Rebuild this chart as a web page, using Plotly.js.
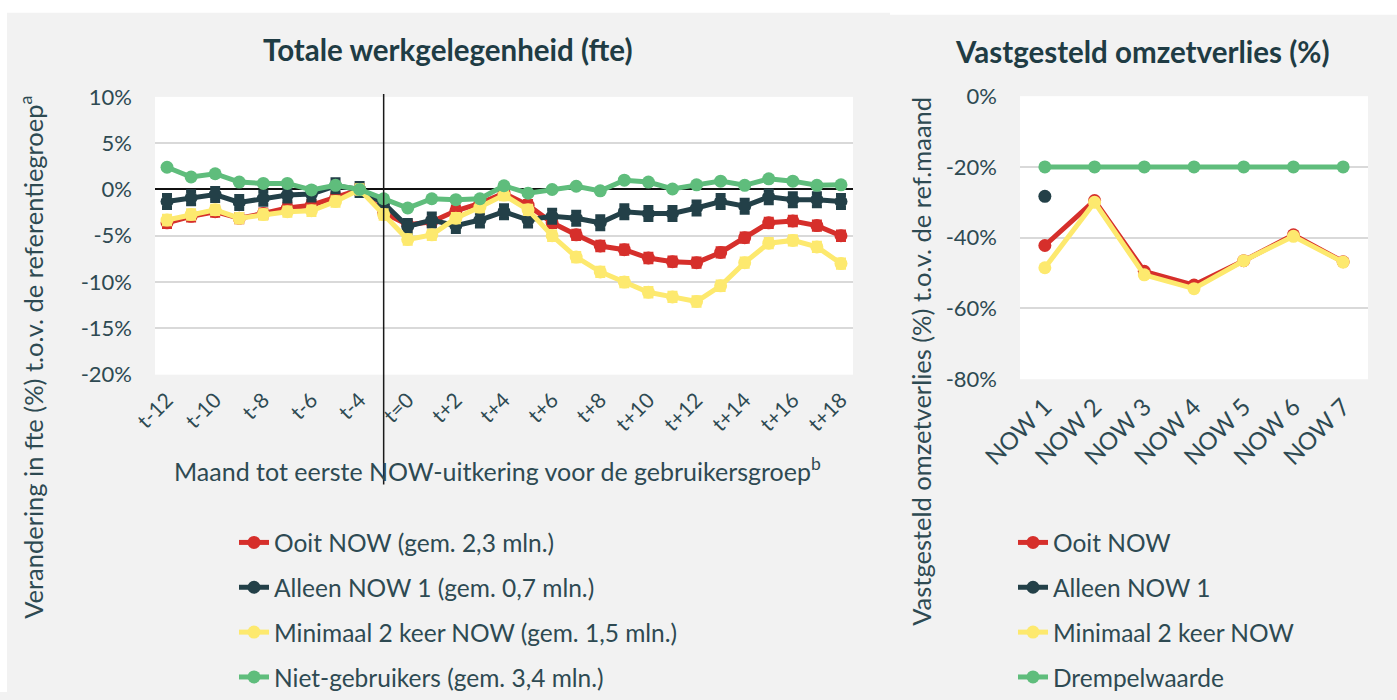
<!DOCTYPE html>
<html><head><meta charset="utf-8">
<script src="https://cdn.plot.ly/plotly-3.0.1.min.js"></script>
<style>html,body{margin:0;padding:0;background:#fff;} #chart{width:1397px;height:700px;}</style>
</head><body><div id="chart"></div>
<script>
// ---------- data: left panel ----------
const months = ['t-12','t-11','t-10','t-9','t-8','t-7','t-6','t-5','t-4','t-1','t=0',
  't+1','t+2','t+3','t+4','t+5','t+6','t+7','t+8','t+9','t+10','t+11','t+12','t+13','t+14','t+15','t+16','t+17','t+18'];
const ooitNow   = [-3.6,-2.9,-2.4,-3.1,-2.6,-2.0,-1.7,-0.9,0,-2.5,-3.8,-3.5,-2.3,-1.5,-0.4,-1.7,-3.6,-4.9,-6.1,-6.5,-7.4,-7.8,-7.9,-6.8,-5.2,-3.6,-3.4,-3.9,-5.0];
const alleenNow1= [-1.3,-0.9,-0.55,-1.4,-0.95,-0.6,-0.5,0.4,0,-1.5,-4.0,-3.3,-3.9,-3.3,-2.4,-3.3,-2.9,-3.1,-3.6,-2.4,-2.6,-2.6,-2.0,-1.3,-1.8,-0.8,-1.1,-1.1,-1.3];
const min2Now   = [-3.3,-2.7,-2.2,-3.1,-2.7,-2.4,-2.3,-1.3,0,-2.7,-5.4,-4.9,-3.1,-1.9,-0.6,-2.2,-5.0,-7.3,-8.9,-10.0,-11.1,-11.6,-12.1,-10.4,-7.9,-5.8,-5.5,-6.2,-8.0];
const nietGebr  = [2.4,1.35,1.7,0.8,0.65,0.65,-0.05,0.45,0,-1.0,-2.0,-1.0,-1.1,-1.0,0.4,-0.4,0.0,0.35,-0.15,1.0,0.8,0.05,0.5,0.9,0.45,1.15,0.9,0.45,0.5];
const errOoit   = 0.45, errAlleen = 0.7, errMin2 = 0.45;
const leftNames = ['Ooit NOW (gem. 2,3 mln.)','Alleen NOW 1 (gem. 0,7 mln.)','Minimaal 2 keer NOW (gem. 1,5 mln.)','Niet-gebruikers (gem. 3,4 mln.)'];
const leftYTickVals = [-20,-15,-10,-5,0,5,10];
const leftYTickText = ['-20%','-15%','-10%','-5%','0%','5%','10%'];
const leftXTickVals = months.filter((m,i)=>i%2===0);

// ---------- data: right panel ----------
const nowRounds = ['NOW 1','NOW 2','NOW 3','NOW 4','NOW 5','NOW 6','NOW 7'];
const rOoit   = [-42.2,-29.5,-49.5,-53.4,-46.5,-39.2,-46.8];
const rAlleen = [-28.3,null,null,null,null,null,null];
const rMin2   = [-48.5,-30.0,-50.5,-54.4,-46.5,-39.6,-46.9];
const rDrempel= [-20,-20,-20,-20,-20,-20,-20];
const rightNames = ['Ooit NOW','Alleen NOW 1','Minimaal 2 keer NOW','Drempelwaarde'];
const rightYTickVals = [-80,-60,-40,-20,0];
const rightYTickText = ['-80%','-60%','-40%','-20%','0%'];

// ---------- style ----------
const RED='#d62f2b', DARK='#234048', YEL='#fde96e', GRN='#5fbd7c';
const TXT='#2e4a52', TITLE='#1f3c44';
const FONT='Lato, "Open Sans", sans-serif';
const W=1397, H=700;
const px=v=>v/W, py=v=>1-v/H;

function lineTrace(x,y,name,color,xa,ya,leg,grp,err,lw,ms){
  const t={x:x,y:y,name:name,type:'scatter',mode:'lines+markers',xaxis:xa,yaxis:ya,
    legend:leg,legendgroup:grp,connectgaps:false,
    line:{color:color,width:lw},marker:{color:color,size:ms},hoverinfo:'skip'};
  if(err!==null){t.error_y={type:'constant',value:err,color:color,thickness:4,width:5,visible:true};}
  return t;
}

const data=[
  lineTrace(months,ooitNow,leftNames[0],RED,'x','y','legend','L1',errOoit,5,13),
  lineTrace(months,alleenNow1,leftNames[1],DARK,'x','y','legend','L2',errAlleen,5,13),
  lineTrace(months,min2Now,leftNames[2],YEL,'x','y','legend','L3',errMin2,5,13),
  lineTrace(months,nietGebr,leftNames[3],GRN,'x','y','legend','L4',null,5,13),
  lineTrace(nowRounds,rOoit,rightNames[0],RED,'x2','y2','legend2','R1',null,5,13),
  lineTrace(nowRounds,rAlleen,rightNames[1],DARK,'x2','y2','legend2','R2',null,5,13),
  lineTrace(nowRounds,rMin2,rightNames[2],YEL,'x2','y2','legend2','R3',null,5,13),
  lineTrace(nowRounds,rDrempel,rightNames[3],GRN,'x2','y2','legend2','R4',null,5,13)
];

const axFont={family:FONT,size:22,color:TXT};
const legFont={family:FONT,size:24.5,color:TXT};
const layout={
  width:W,height:H,margin:{l:0,r:0,t:0,b:0},
  paper_bgcolor:'#f2f2f2',plot_bgcolor:'#ffffff',
  font:{family:FONT,color:TXT},
  showlegend:true,
  xaxis:{domain:[px(155),px(853)],anchor:'y',type:'category',range:[-0.5,months.length-0.5],tickmode:'array',
    tickvals:leftXTickVals,ticktext:leftXTickVals,tickangle:-45,
    tickfont:{family:FONT,size:21,color:TXT},showgrid:false,zeroline:false,showline:false,ticks:'',
    ticklabelstandoff:8,fixedrange:true},
  yaxis:{domain:[py(379),py(98)],anchor:'x',range:[-20,10],tickmode:'array',
    tickvals:leftYTickVals,ticktext:leftYTickText,tickfont:axFont,
    showgrid:true,gridcolor:'#d9d9d9',gridwidth:2,zeroline:true,zerolinecolor:'#111',zerolinewidth:2,
    showline:false,ticks:'',ticklabelstandoff:22,fixedrange:true},
  xaxis2:{domain:[px(1020),px(1368)],anchor:'y2',type:'category',range:[-0.5,nowRounds.length-0.5],tickangle:-45,
    tickfont:{family:FONT,size:24,color:TXT},showgrid:false,zeroline:false,showline:false,ticks:'',
    ticklabelstandoff:8,fixedrange:true},
  yaxis2:{domain:[py(383.6),py(97.3)],anchor:'x2',range:[-80,0],tickmode:'array',
    tickvals:rightYTickVals,ticktext:rightYTickText,tickfont:axFont,
    showgrid:true,gridcolor:'#d9d9d9',gridwidth:2,zeroline:false,showline:false,ticks:'',
    ticklabelstandoff:22,fixedrange:true},
  legend:{x:px(234),y:py(526),xanchor:'left',yanchor:'top',bgcolor:'rgba(0,0,0,0)',
    font:legFont,tracegroupgap:10,itemclick:false,itemdoubleclick:false},
  legend2:{x:px(1013),y:py(526),xanchor:'left',yanchor:'top',bgcolor:'rgba(0,0,0,0)',
    font:legFont,tracegroupgap:10,itemclick:false,itemdoubleclick:false},
  shapes:[
    {type:'rect',xref:'paper',yref:'paper',x0:0,x1:1,y0:py(13),y1:1,fillcolor:'#ffffff',line:{width:0},layer:'above'},
    {type:'rect',xref:'paper',yref:'paper',x0:px(890),x1:1,y0:py(15),y1:1,fillcolor:'#ffffff',line:{width:0},layer:'above'},
    {type:'rect',xref:'paper',yref:'paper',x0:0,x1:px(7),y0:0,y1:1,fillcolor:'#ffffff',line:{width:0},layer:'above'},
    {type:'line',xref:'x',yref:'paper',x0:months.indexOf('t-1'),x1:months.indexOf('t-1'),y0:py(490),y1:py(95),
      line:{color:'#1a1a1a',width:1.5},layer:'above'}
  ],
  annotations:[
    {text:'<b>Totale werkgelegenheid (fte)</b>',xref:'paper',yref:'paper',x:px(448),y:py(50),showarrow:false,
      font:{family:FONT,size:29.5,color:TITLE},xanchor:'center',yanchor:'middle'},
    {text:'<b>Vastgesteld omzetverlies (%)</b>',xref:'paper',yref:'paper',x:px(1142),y:py(52),showarrow:false,
      font:{family:FONT,size:29.5,color:TITLE},xanchor:'center',yanchor:'middle'},
    {text:'Verandering in fte (%) t.o.v. de referentiegroep<sup>a</sup>',xref:'paper',yref:'paper',x:px(31),y:py(362),
      showarrow:false,textangle:-90,font:{family:FONT,size:25.5,color:TXT},xanchor:'center',yanchor:'middle'},
    {text:'Maand tot eerste NOW-uitkering voor de gebruikersgroep<sup>b</sup>',xref:'paper',yref:'paper',x:px(497),y:py(475),
      showarrow:false,font:{family:FONT,size:25,color:TXT},xanchor:'center',yanchor:'middle'},
    {text:'Vastgesteld omzetverlies (%) t.o.v. de ref.maand',xref:'paper',yref:'paper',x:px(921),y:py(366),
      showarrow:false,textangle:-90,font:{family:FONT,size:25.5,color:TXT},xanchor:'center',yanchor:'middle'}
  ]
};
Plotly.newPlot('chart',data,layout,{displayModeBar:false,staticPlot:true});
</script></body></html>
